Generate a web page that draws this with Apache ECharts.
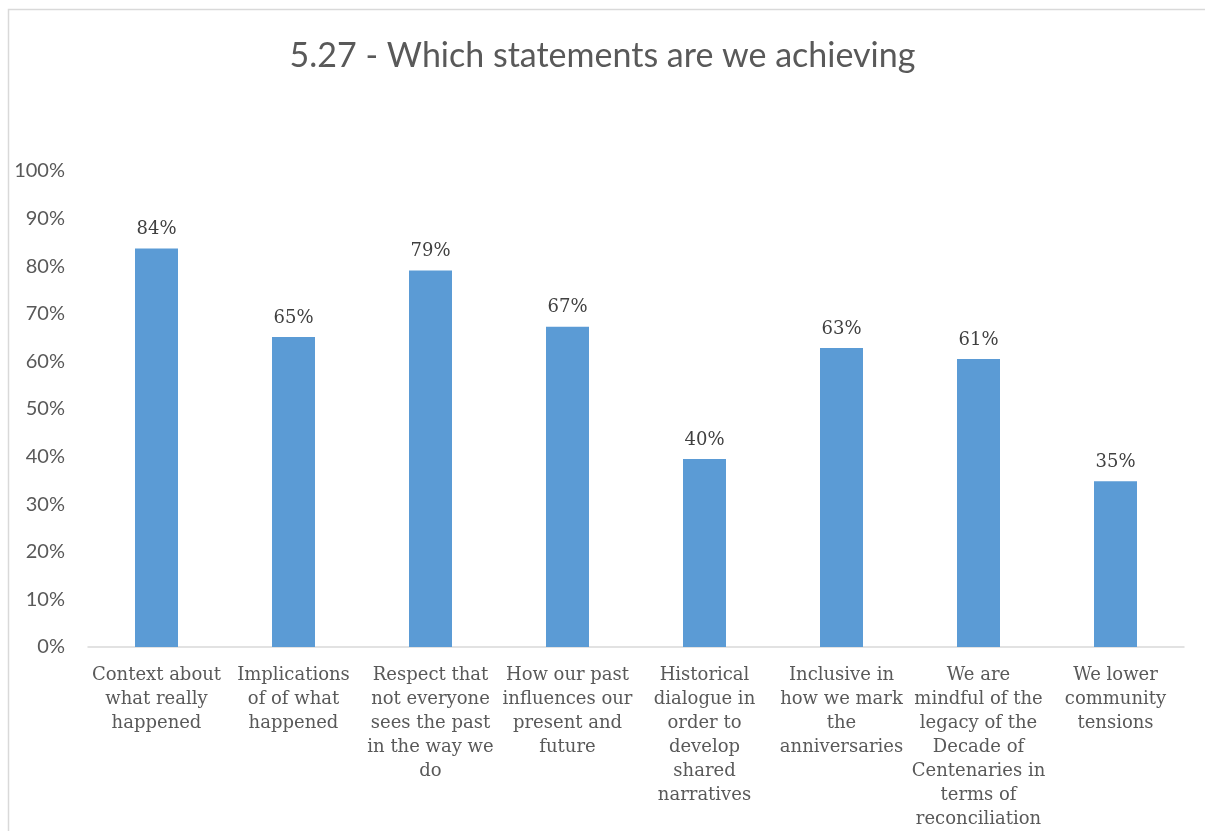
<!DOCTYPE html>
<html>
<head>
<meta charset="utf-8">
<script src="https://cdn.jsdelivr.net/npm/echarts@6/dist/echarts.min.js"></script>
<style>
html,body{margin:0;padding:0;background:#fff;}
#main{width:1205px;height:831px;}
</style>
</head>
<body>
<div id="main"></div>
<script>
const titleText = '5.27 - Which statements are we achieving';
const categories = [
  'Context about\nwhat really\nhappened',
  'Implications\nof of what\nhappened',
  'Respect that\nnot everyone\nsees the past\nin the way we\ndo',
  'How our past\ninfluences our\npresent and\nfuture',
  'Historical\ndialogue in\norder to\ndevelop\nshared\nnarratives',
  'Inclusive in\nhow we mark\nthe\nanniversaries',
  'We are\nmindful of the\nlegacy of the\nDecade of\nCentenaries in\nterms of\nreconciliation',
  'We lower\ncommunity\ntensions'
];
const values = [83.7, 65.1, 79.1, 67.3, 39.5, 62.8, 60.5, 34.8];
const yTicks = [0, 10, 20, 30, 40, 50, 60, 70, 80, 90, 100];

const chart = echarts.init(document.getElementById('main'));
chart.setOption({
  backgroundColor: '#fff',
  animation: false,
  title: {
    text: titleText,
    left: 'center',
    top: 34,
    textStyle: { fontFamily: 'Lato', fontSize: 34, fontWeight: 'normal', color: '#595959' }
  },
  graphic: [{
    type: 'rect',
    shape: { x: 8.5, y: 9.5, width: 1300, height: 900 },
    style: { fill: 'none', stroke: '#d9d9d9', lineWidth: 1.5 },
    silent: true
  }],
  grid: { left: 88, right: 21, top: 171, bottom: 174, containLabel: false },
  xAxis: {
    type: 'category',
    data: categories,
    axisLine: { lineStyle: { color: '#d9d9d9', width: 1.5 } },
    axisTick: { show: false },
    axisLabel: {
      interval: 0,
      margin: 16,
      fontFamily: 'DejaVu Serif',
      fontSize: 18,
      lineHeight: 24,
      color: '#595959'
    }
  },
  yAxis: {
    type: 'value',
    min: yTicks[0],
    max: yTicks[yTicks.length - 1],
    interval: 10,
    axisLine: { show: false },
    axisTick: { show: false },
    splitLine: { show: false },
    axisLabel: {
      margin: 23,
      fontFamily: 'Lato',
      fontSize: 20,
      color: '#595959',
      formatter: v => v + '%'
    }
  },
  series: [{
    type: 'bar',
    data: values,
    barWidth: 43,
    itemStyle: { color: '#5B9BD5' },
    label: {
      show: true,
      position: 'top',
      distance: 10,
      fontFamily: 'DejaVu Serif',
      fontSize: 18,
      color: '#404040',
      formatter: p => Math.round(p.value) + '%'
    }
  }]
});
</script>
</body>
</html>
